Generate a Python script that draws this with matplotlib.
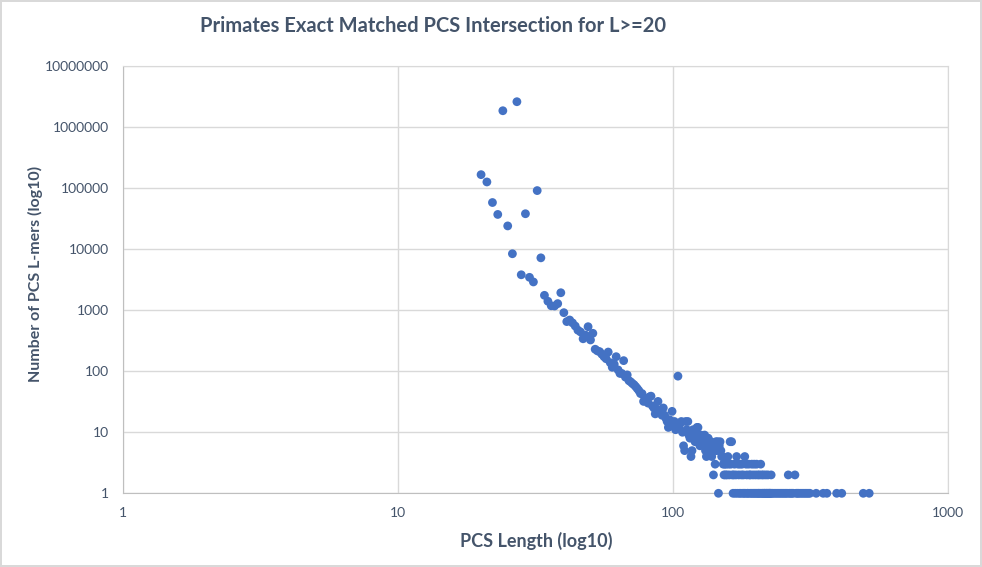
import matplotlib
matplotlib.use('Agg')
import matplotlib.pyplot as plt
from matplotlib.ticker import FixedLocator, FixedFormatter, NullLocator

# PCS length (x) and number of L-mers (y)
pcs_length = [
    20, 21, 22, 23, 24, 25, 26, 27, 28, 29, 30, 31, 32, 33, 34, 35, 36, 37, 38, 39,
    40, 41, 42, 43, 44, 45, 46, 47, 48, 49, 50, 51, 52, 53, 54, 55, 56, 57, 58, 59,
    60, 61, 62, 63, 64, 65, 66, 67, 68, 69, 70, 71, 72, 73, 74, 75, 76, 77, 78, 79,
    80, 81, 82, 83, 84, 85, 86, 87, 88, 89, 90, 91, 92, 93, 94, 95, 96, 97, 98, 99,
    100, 101, 102, 103, 104, 105, 106, 107, 108, 109, 110, 111, 112, 113, 114, 115,
    116, 117, 118, 119, 120, 121, 122, 123, 124, 125, 126, 127, 128, 129, 130, 131,
    132, 133, 134, 135, 136, 137, 138, 139, 140, 141, 142, 143, 144, 145, 146, 147,
    148, 149, 150, 151, 152, 153, 154, 155, 156, 157, 158, 159, 160, 161, 162, 163,
    164, 165, 166, 167, 168, 169, 170, 171, 172, 173, 174, 175, 176, 177, 178, 179,
    180, 181, 182, 183, 184, 185, 186, 187, 188, 189, 190, 191, 192, 193, 194, 195,
    196, 197, 198, 199, 200, 201, 202, 203, 204, 205, 206, 207, 208, 209, 210, 211,
    212, 213, 214, 215, 216, 217, 218, 219, 220, 221, 222, 223, 224, 225, 226, 227,
    228, 230, 233, 236, 239, 242, 245, 248, 251, 254, 257, 260, 262, 264, 267, 270,
    273, 277, 280, 283, 286, 290, 294, 298, 302, 306, 310, 314, 331, 351, 362, 393,
    410, 491, 516,
]
lmer_count = [
    166000, 126000, 58000, 37000, 1850000, 24000, 8400, 2600000, 3800, 38000,
    3450, 2900, 91000, 7200, 1750, 1400, 1180, 1170, 1280, 1930,
    910, 650, 690, 620, 550, 470, 440, 340, 390, 536, 325, 418, 229, 215, 209, 190,
    173, 160, 206, 138, 116, 130, 173, 105, 92, 92, 149, 80, 87, 70,
    67, 63, 60, 56, 52, 48, 43, 43, 32, 36, 33, 30, 38, 39, 27, 25, 20, 24, 32, 22,
    21, 19, 25, 19, 17, 15, 12, 16, 13, 22, 14, 15, 11, 13, 83, 12, 14, 15, 10, 6,
    5, 15, 11, 15, 9, 8, 4, 5, 11, 9, 7, 10, 12, 12, 8, 6, 9, 7, 8, 6,
    9, 5, 4, 6, 8, 6, 5, 7, 4, 6, 2, 5, 3, 7, 5, 7, 1, 6, 7, 5,
    4, 4, 3, 2, 3, 2, 3, 2, 4, 3, 2, 7, 3, 7, 2, 1, 2, 3, 1, 2,
    4, 1, 3, 2, 1, 3, 1, 2, 3, 1, 2, 1, 4, 1, 3, 2, 1, 1, 3, 2,
    1, 2, 1, 3, 1, 2, 1, 3, 1, 2, 1, 3, 1, 2, 1, 1, 2, 1, 3, 1,
    2, 1, 1, 2, 1, 1, 1, 2, 1, 1, 1, 2, 1, 1, 1, 1, 1, 2,
    1, 1, 1, 1, 1, 1, 1, 1, 1, 1, 1, 1, 2, 1, 1, 1,
    1, 2, 1, 1, 1, 1, 1, 1, 1, 1, 1, 1, 1, 1, 1, 1,
    1, 1, 1,
]

x_ticks = [1, 10, 100, 1000]
x_tick_labels = ['1', '10', '100', '1000']
y_ticks = [1, 10, 100, 1000, 10000, 100000, 1000000, 10000000]
y_tick_labels = ['1', '10', '100', '1000', '10000', '100000', '1000000', '10000000']

text_color = '#44546A'
grid_color = '#D9D9D9'

plt.rcParams['font.family'] = ['Lato', 'DejaVu Sans']

fig = plt.figure(figsize=(9.82, 5.67), dpi=100)
fig.patch.set_edgecolor(grid_color)
fig.patch.set_linewidth(1.5)
ax = fig.add_axes([0.1256, 0.130, 0.8400, 0.7536])

ax.scatter(pcs_length, lmer_count, s=40, color='#4472C4', edgecolors='none', zorder=3,
           clip_on=False)

ax.set_xscale('log')
ax.set_yscale('log')
ax.set_xlim(1, 1000)
ax.set_ylim(1, 10000000)
ax.xaxis.set_major_locator(FixedLocator(x_ticks))
ax.xaxis.set_major_formatter(FixedFormatter(x_tick_labels))
ax.yaxis.set_major_locator(FixedLocator(y_ticks))
ax.yaxis.set_major_formatter(FixedFormatter(y_tick_labels))
ax.xaxis.set_minor_locator(NullLocator())
ax.yaxis.set_minor_locator(NullLocator())

ax.grid(True, color=grid_color, linewidth=1, zorder=0)
for side in ['top', 'right']:
    ax.spines[side].set_color(grid_color)
for side in ['left', 'bottom']:
    ax.spines[side].set_color('#BFBFBF')
ax.tick_params(length=0, labelsize=10, colors=text_color, pad=10)

ax.set_xlabel('PCS Length (log10)', fontsize=13, fontweight='bold', color=text_color)
ax.xaxis.set_label_coords(0.5, -0.0906)
ax.set_ylabel('Number of PCS L-mers (log10)', fontsize=11.5, fontweight='bold',
              color=text_color)
ax.yaxis.set_label_coords(-0.097, 0.513)
fig.text(0.441, 0.9436, 'Primates Exact Matched PCS Intersection for L>=20',
         fontsize=14.5, fontweight='bold', color=text_color, ha='center', va='baseline')

fig.savefig('out.png', dpi=100, edgecolor=fig.get_edgecolor())
